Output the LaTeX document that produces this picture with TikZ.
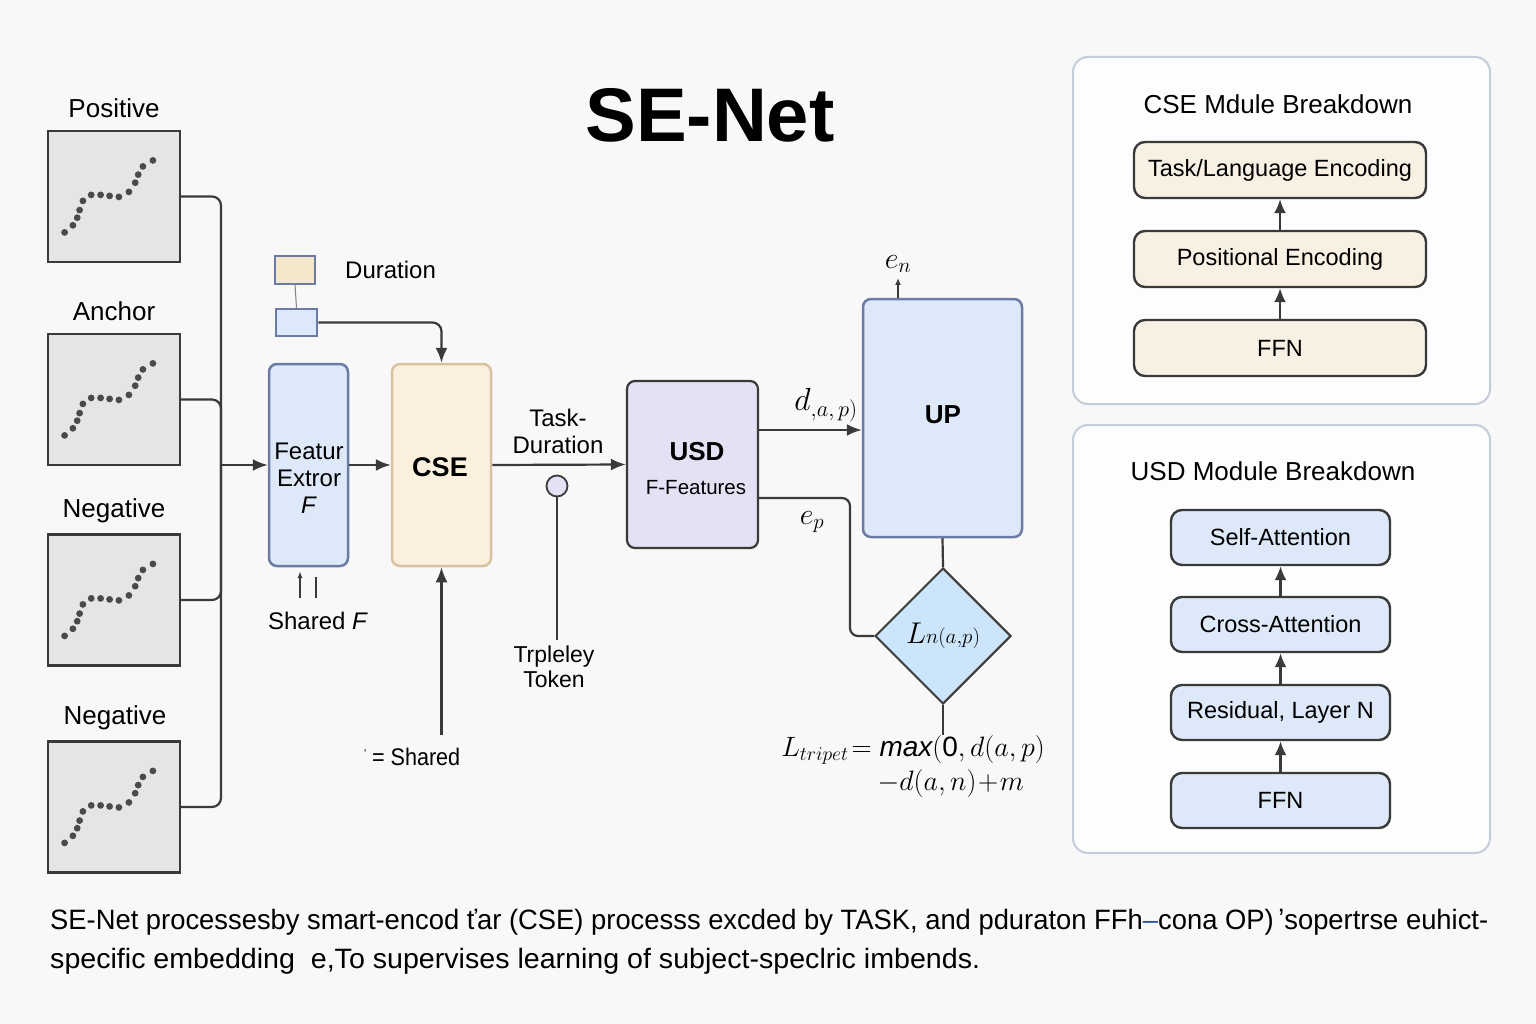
\RequirePackage{fix-cm}
\documentclass[tikz,border=0pt]{standalone}
\usepackage{fontspec}
\usepackage{graphicx}
\setmainfont{Liberation Sans}
\usetikzlibrary{arrows.meta,shapes.geometric,calc}
\definecolor{bg}{HTML}{F8F8F8}
\definecolor{dk}{HTML}{3A3A3A}
\definecolor{sigfill}{HTML}{E5E5E5}
\definecolor{dotc}{HTML}{4A4A4A}
\definecolor{bluefill}{HTML}{DDE9F9}
\definecolor{bluebd}{HTML}{6B7BA6}
\definecolor{tanfill}{HTML}{FBF0DD}
\definecolor{tanbd}{HTML}{D8C3A0}
\definecolor{lavfill}{HTML}{E3E1F3}
\definecolor{diafill}{HTML}{CDE5FB}
\definecolor{panelbd}{HTML}{C5CCDB}
\definecolor{panelfill}{HTML}{FDFDFD}
\definecolor{ptan}{HTML}{F8F0E3}
\definecolor{legtan}{HTML}{F3E8CC}
\definecolor{capblue}{HTML}{3050A0}
\begin{document}
\begin{tikzpicture}[x=1pt,y=-1pt,
  lbl/.style={font=\fontsize{26}{30}\selectfont, inner sep=0pt},
  mid/.style={font=\fontsize{24}{27}\selectfont, inner sep=0pt, align=center},
  sig/.style={draw=dk, fill=sigfill, line width=2.2pt, minimum width=132pt, minimum height=131pt, inner sep=0pt},
  conn/.style={draw=dk, line width=2.2pt},
  arr/.style={conn, -{Latex[length=15pt,width=12pt]}},
  arrs/.style={conn, -{Latex[length=14pt,width=12pt]}},
  bluebox/.style={draw=bluebd, fill=bluefill, line width=2.5pt, rounded corners=8pt, inner sep=0pt},
  tanbox/.style={draw=tanbd, fill=tanfill, line width=2.5pt, rounded corners=8pt, inner sep=0pt},
  panel/.style={draw=panelbd, fill=panelfill, line width=2pt, rounded corners=15pt, inner sep=0pt},
  cbox/.style={draw=dk, fill=ptan, line width=2.4pt, rounded corners=11pt, minimum width=292pt, minimum height=56pt, inner sep=0pt, font=\fontsize{23.5}{26}\selectfont},
  ubox/.style={draw=dk, fill=bluefill, line width=2.4pt, rounded corners=11pt, minimum width=219pt, minimum height=55pt, inner sep=0pt, font=\fontsize{23.5}{26}\selectfont},
  ptitle/.style={font=\fontsize{26}{30}\selectfont, inner sep=0pt}
]
\useasboundingbox[fill=bg] (0,0) rectangle (1536,1024);

% title
\node[inner sep=0pt, font=\fontsize{76}{80}\selectfont\bfseries] (title) at (710,115) {SE-Net};

% signal boxes
\node[lbl] (lpos) at (114,108) {Positive};
\node[sig] (pos) at (114,196.5) {};
\node[lbl] (lanc) at (114,311) {Anchor};
\node[sig] (anc) at (114,399.5) {};
\node[lbl] (lneg1) at (114,511) {Negative};
\node[sig] (neg1) at (114,600) {};
\node[lbl] (lneg2) at (115,718) {Negative};
\node[sig] (neg2) at (114,807) {};

\foreach \b in {pos,anc,neg1,neg2}{
  \begin{scope}[shift={(\b.north west)}]
    \foreach \px/\py in {17.7/102.5, 26/95.4, 30.3/87.8, 32.7/80.2, 36/71, 44.3/65, 53.7/65, 62.7/66, 72/67, 82/62, 88.3/52.8, 91.3/44.7, 96/36.5, 106/30.5}
      \fill[dotc] (\px,\py) circle (3.4pt);
  \end{scope}
}

% feature extractor and CSE
\node[bluebox, minimum width=79pt, minimum height=202pt] (fe) at (308.5,465) {};
\node[mid, font=\fontsize{24}{27}\selectfont] (fetext) at (309,478) {Featur\\Extror\\\textit{F}};
\node[tanbox, minimum width=99pt, minimum height=202pt] (cse) at (441.5,465) {};
\node[inner sep=0pt, font=\fontsize{27}{30}\selectfont\bfseries] (csetext) at (440,467) {CSE};

% bus
\coordinate (bus) at (221,465);
\draw[conn, rounded corners=9pt] (pos.east) -| (bus);
\draw[conn, rounded corners=9pt] (anc.east) -| (bus);
\draw[conn, rounded corners=9pt] (neg1.east) -| (bus);
\draw[conn, rounded corners=9pt] (neg2.east) -| (bus);
\draw[arr] (bus) -- (fe.west);
\draw[arr] (fe.east) -- (cse.west);

% duration legend
\node[draw=bluebd, fill=legtan, line width=1.5pt, minimum width=40pt, minimum height=28pt, inner sep=0pt] (durbox) at (295,270) {};
\node[mid, anchor=west] (durtext) at (345,270) {Duration};
\node[draw=bluebd, fill=bluefill, line width=2.5pt, minimum width=41pt, minimum height=27pt, inner sep=0pt] (durin) at (296.5,322.5) {};
\draw[draw=gray, line width=1pt] (durbox.south) -- (durin.north);
\draw[arr, rounded corners=9pt] (durin.east) -| (cse.north);

% shared F marks
\coordinate (sa1) at (300,598);
\coordinate (sa2) at (300,571);
\coordinate (sb1) at (316,577);
\coordinate (sb2) at (316,598);
\draw[conn, line width=1.5pt, -{Latex[length=7pt,width=5pt]}] (sa1) -- (sa2);
\draw[conn, line width=2.2pt] (sb1) -- (sb2);
\node[mid] (sharedF) at (318,621) {Shared \textit{F}};

% shared arrow into CSE
\coordinate (shb) at (441.5,735);
\draw[arr] (shb) -- (cse.south);
\node[mid, anchor=west] (shared) at (364,757) {\scalebox{0.9}[1]{{\fontsize{12}{12}\selectfont\raisebox{8pt}{`}}\hspace{6pt}= Shared}};

% USD
\node[draw=dk, fill=lavfill, line width=2.2pt, rounded corners=8pt, minimum width=131pt, minimum height=167pt, inner sep=0pt] (usd) at (692.5,464.5) {};
\node[inner sep=0pt, font=\fontsize{26}{30}\selectfont\bfseries] (usdtext) at (697,452) {USD};
\node[inner sep=0pt, font=\fontsize{20.5}{24}\selectfont] (usdsub) at (696,488) {F-Features};
\draw[arr] (cse.east) -- (usd.west);
\node[mid] (taskdur) at (558,431) {Task-\\Duration};

% triplet token
\node[circle, draw=dk, fill=lavfill, line width=1.8pt, minimum size=21pt, inner sep=0pt] (tok) at (557,486) {};
\coordinate (tokb) at (557,640);
\draw[conn, line width=1.6pt] (tok.south) -- (tokb);
\node[mid, font=\fontsize{23}{25}\selectfont] (toktext) at (554,667) {Trpleley\\Token};

% UP
\node[bluebox, minimum width=159pt, minimum height=238pt] (up) at (942.5,418) {};
\node[inner sep=0pt, font=\fontsize{26}{30}\selectfont\bfseries] (uptext) at (943,415) {UP};
\coordinate (dy) at (0,430);
\draw[arr] (usd.east |- dy) -- (up.west |- dy);
\node[inner sep=0pt, font=\fontsize{32}{36}\selectfont] (dlab) at (826,405) {$d_{,a,\,p)}$};

% e_n
\coordinate (enc) at (898,278);
\draw[conn, -{Latex[length=7pt,width=6pt]}] (up.north -| enc) -- (enc);
\node[inner sep=0pt, font=\fontsize{30}{34}\selectfont] (enlab) at (898,264) {$e_n$};

% diamond
\node[diamond, draw=dk, fill=diafill, line width=2pt, minimum width=136pt, minimum height=136pt, inner sep=0pt] (diam) at (943,636) {};
\node[inner sep=0pt, font=\fontsize{30}{34}\selectfont] (diamtext) at (943,636) {$L{\scriptstyle n(a,p)}$};
\draw[conn] (up.south) -- (diam.north);
\coordinate (epc) at (850,498);
\coordinate (epy) at (0,498);
\draw[conn, rounded corners=8pt] (usd.east |- epy) -- (epc) |- (diam.west);
\node[inner sep=0pt, font=\fontsize{30}{34}\selectfont] (eplab) at (812,522) {$e_p$};
\coordinate (lossc) at (943,735);
\draw[conn] (diam.south) -- (lossc);

% formula
\node[inner sep=0pt, font=\fontsize{28}{32}\selectfont] (f1) at (913,750) {$L_{tripet}\!=\mathit{max}(\mathrm{0},d(a,p)$};
\node[inner sep=0pt, anchor=east, font=\fontsize{28}{32}\selectfont] (f2) at (1024,783) {$-d(a,n)\!+\!m$};

% CSE panel
\node[panel, minimum width=417pt, minimum height=347pt] (csep) at (1281.5,230.5) {};
\node[ptitle] (csetitle) at (1278,104) {CSE Mdule Breakdown};
\node[cbox] (tle) at (1280,170) {Task/Language Encoding};
\node[cbox] (pe) at (1280,259) {Positional Encoding};
\node[cbox] (cffn) at (1280,348) {FFN};
\draw[arrs] (cffn.north) -- (pe.south);
\draw[arrs] (pe.north) -- (tle.south);

% USD panel
\node[panel, minimum width=417pt, minimum height=428pt] (usdp) at (1281.5,639) {};
\node[ptitle] (usdtitle) at (1273,471) {USD Module Breakdown};
\node[ubox] (sa) at (1280.5,537.5) {Self-Attention};
\node[ubox] (ca) at (1280.5,624.5) {Cross-Attention};
\node[ubox] (rl) at (1280.5,712.5) {Residual, Layer N};
\node[ubox] (uffn) at (1280.5,800.5) {FFN};
\draw[arrs] (uffn.north) -- (rl.south);
\draw[arrs] (rl.north) -- (ca.south);
\draw[arrs] (ca.north) -- (sa.south);

% caption
\node[inner sep=0pt, anchor=west, font=\fontsize{28}{30}\selectfont] (cap1) at (50,922) {\resizebox{1438pt}{\height}{SE-Net processesby smart-encod ťar (CSE) processs excded by TASK, and pduraton FFh\textcolor{capblue}{–}cona OP)\,ʼsopertrse euhict-}};
\node[inner sep=0pt, anchor=west, font=\fontsize{28}{30}\selectfont] (cap2) at (50,961) {\resizebox{930pt}{\height}{specific embedding\ \ e,To supervises learning of subject-speclric imbends.}};
\end{tikzpicture}
\end{document}
